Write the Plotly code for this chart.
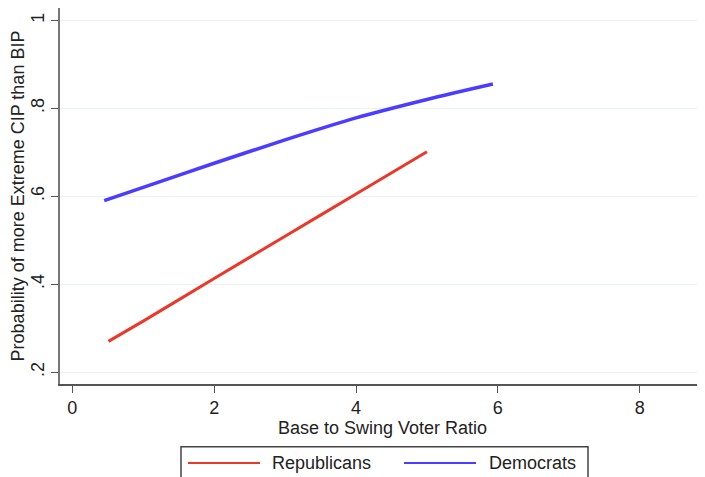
import plotly.graph_objects as go

# Data
rep_x = [0.51, 1.0, 2.0, 3.0, 4.0, 5.0]
rep_y = [0.270, 0.316, 0.413, 0.509, 0.605, 0.701]
dem_x = [0.45, 1.0, 2.0, 3.0, 4.0, 5.0, 5.93]
dem_y = [0.590, 0.620, 0.675, 0.728, 0.778, 0.820, 0.855]

x_ticks = [0, 2, 4, 6, 8]
x_tick_labels = ["0", "2", "4", "6", "8"]
y_ticks = [0.2, 0.4, 0.6, 0.8, 1.0]
y_tick_labels = [".2", ".4", ".6", ".8", "1"]

series_names = ["Republicans", "Democrats"]
RED = "#e8392b"
BLUE = "#4c3cff"
FONT = "Liberation Sans, Arial, sans-serif"
TXT = "#222222"

fig = go.Figure()
fig.add_trace(go.Scatter(x=rep_x, y=rep_y, mode="lines", name=series_names[0],
                         line=dict(color=RED, width=3, shape="spline", smoothing=0.6),
                         showlegend=False))
fig.add_trace(go.Scatter(x=dem_x, y=dem_y, mode="lines", name=series_names[1],
                         line=dict(color=BLUE, width=3.5, shape="spline", smoothing=0.8),
                         showlegend=False))

# The page body adds an 8px offset, so the figure is sized/positioned to compensate
fig.update_layout(
    width=697, height=469,
    margin=dict(l=52, r=0, t=0, b=93),
    paper_bgcolor="white", plot_bgcolor="white",
    font=dict(family=FONT, size=18, color=TXT),
    xaxis=dict(
        range=[-0.173, 8.92], tickmode="array", tickvals=x_ticks, ticktext=x_tick_labels,
        showgrid=False, zeroline=False, showline=True, linecolor="#555555", linewidth=1.5,
        ticks="outside", ticklen=7, tickcolor="#555555", tickwidth=1.3,
        tickfont=dict(size=18, color=TXT),
        title=dict(text="Base to Swing Voter Ratio", font=dict(size=18, color=TXT), standoff=4),
    ),
    yaxis=dict(
        range=[0.173, 1.028], tickmode="array", tickvals=y_ticks, ticktext=y_tick_labels,
        tickangle=-90,
        showgrid=True, gridcolor="#eaf2f3", gridwidth=1.2, zeroline=False,
        showline=True, linecolor="#777777", linewidth=1.5,
        ticks="outside", ticklen=7, tickcolor="#555555", tickwidth=1.3,
        tickfont=dict(size=18, color=TXT),
        title=dict(text="Probability of more Extreme CIP than BIP", font=dict(size=18, color=TXT), standoff=6),
    ),
)

# Legend box drawn below the plot (paper coordinates)
fig.add_shape(type="rect", xref="paper", yref="paper", x0=0.1876, x1=0.8186, y0=-0.30, y1=-0.1668,
              line=dict(color="#444444", width=1.5), fillcolor="white")
leg_y = -0.2101
fig.add_shape(type="line", xref="paper", yref="paper", x0=0.1984, x1=0.3101, y0=leg_y, y1=leg_y,
              line=dict(color=RED, width=2))
fig.add_shape(type="line", xref="paper", yref="paper", x0=0.5333, x1=0.6450, y0=leg_y, y1=leg_y,
              line=dict(color=BLUE, width=2))
fig.add_annotation(xref="paper", yref="paper", x=0.3256, y=leg_y, text=series_names[0],
                   showarrow=False, xanchor="left", yanchor="middle", font=dict(size=18, color=TXT))
fig.add_annotation(xref="paper", yref="paper", x=0.662, y=leg_y, text=series_names[1],
                   showarrow=False, xanchor="left", yanchor="middle", font=dict(size=18, color=TXT))

fig.write_html("out.html")
